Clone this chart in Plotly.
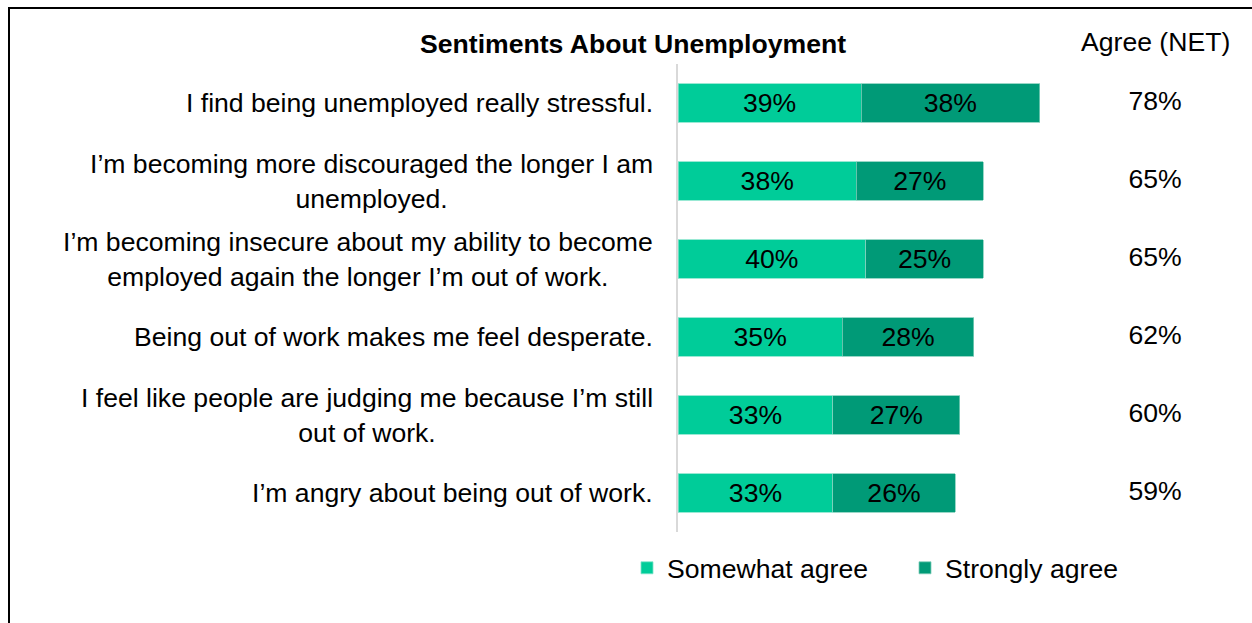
import plotly.graph_objects as go

categories = [
    "I find being unemployed really stressful.",
    "I’m becoming more discouraged the longer I am<br>unemployed.",
    "I’m becoming insecure about my ability to become<br>employed again the longer I’m out of work.",
    "Being out of work makes me feel desperate.",
    "I feel like people are judging me because I’m still<br>out of work.",
    "I’m angry about being out of work.",
]
somewhat_agree = [39, 38, 40, 35, 33, 33]
strongly_agree = [38, 27, 25, 28, 27, 26]
agree_net = [78, 65, 65, 62, 60, 59]

W, H = 1252, 623
FONT = "Liberation Sans, Arial, sans-serif"
FS = 26.6
C_SOME = "#00CC99"
C_STRONG = "#009A77"
PX_PER_PCT = 4.695
AXIS_X = 678

fig = go.Figure()
fig.add_trace(go.Bar(
    y=categories, x=somewhat_agree, orientation="h", name="Somewhat agree",
    marker=dict(color=C_SOME, line=dict(color="#7fe3c9", width=0.8)),
    text=[f"{v}%" for v in somewhat_agree], textposition="inside",
    insidetextanchor="middle", textfont=dict(color="black", size=FS, family=FONT),
    hoverinfo="skip",
))
fig.add_trace(go.Bar(
    y=categories, x=strongly_agree, orientation="h", name="Strongly agree",
    marker=dict(color=C_STRONG, line=dict(color="#7fcdb9", width=0.8)),
    text=[f"{v}%" for v in strongly_agree], textposition="inside",
    insidetextanchor="middle", textfont=dict(color="black", size=FS, family=FONT),
    hoverinfo="skip",
))
fig.add_trace(go.Scatter(
    y=categories, x=[(1155 - AXIS_X) / PX_PER_PCT] * len(categories), mode="text",
    text=[f"{v}%" for v in agree_net], textposition="middle center",
    textfont=dict(color="black", size=FS, family=FONT), showlegend=False, hoverinfo="skip",
))

annotations = []
for c in categories:
    annotations.append(dict(
        x=655 / W, xref="paper", y=c, yref="y", text=c, showarrow=False,
        xanchor="right", yanchor="middle", align="center",
        font=dict(size=FS, color="black", family=FONT),
    ))
annotations.append(dict(
    x=633 / W, xref="paper", y=1 - 44 / H, yref="paper", text="<b>Sentiments About Unemployment</b>",
    showarrow=False, xanchor="center", yanchor="middle", font=dict(size=FS, color="black", family=FONT),
))
annotations.append(dict(
    x=1155 / W, xref="paper", y=1 - 42 / H, yref="paper", text="Agree (NET)",
    showarrow=False, xanchor="center", yanchor="middle", font=dict(size=FS, color="black", family=FONT),
))

fig.update_layout(
    width=W, height=H, barmode="stack", bargap=0.51,
    margin=dict(l=0, r=0, t=0, b=0),
    paper_bgcolor="white", plot_bgcolor="white",
    font=dict(family=FONT, size=FS, color="black"),
    xaxis=dict(domain=[AXIS_X / W, 1], range=[0, (W - AXIS_X) / PX_PER_PCT],
               visible=False, fixedrange=True),
    yaxis=dict(domain=[1 - 532 / H, 1 - 64 / H], autorange="reversed",
               showticklabels=False, showline=True, linecolor="#d9d9d9", linewidth=2,
               showgrid=False, zeroline=False, ticks=""),
    legend=dict(orientation="h", x=627 / W, xanchor="left", y=1 - 568 / H, yanchor="middle",
                traceorder="normal",
                font=dict(size=FS, color="black", family=FONT),
                entrywidth=233, entrywidthmode="pixels", bgcolor="rgba(0,0,0,0)",
                itemclick=False, itemdoubleclick=False),
    annotations=annotations,
    shapes=[dict(type="rect", xref="paper", yref="paper",
                 x0=9 / W, x1=1 + 10 / W, y0=-10 / H, y1=1 - 8 / H,
                 line=dict(color="black", width=2), fillcolor="rgba(0,0,0,0)", layer="above")],
    showlegend=True,
)

fig.write_html("out.html")
